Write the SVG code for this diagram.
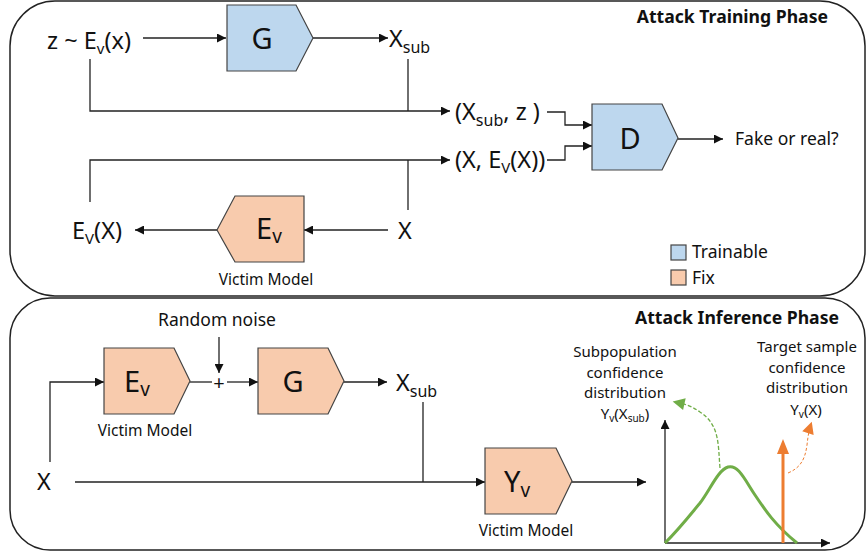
<svg xmlns="http://www.w3.org/2000/svg" width="867" height="552" viewBox="0 0 867 552">
<defs>
<marker id="ah" viewBox="0 0 10 10" refX="10" refY="5" markerWidth="10" markerHeight="9" markerUnits="userSpaceOnUse" orient="auto"><path d="M0,0 L10,5 L0,10 z" fill="#111"/></marker>
<marker id="ahg" viewBox="0 0 10 10" refX="8" refY="5" markerWidth="13" markerHeight="12" markerUnits="userSpaceOnUse" orient="auto"><path d="M0,0 L10,5 L0,10 z" fill="#70AD47"/></marker>
<marker id="aho" viewBox="0 0 10 10" refX="8" refY="5" markerWidth="13" markerHeight="12" markerUnits="userSpaceOnUse" orient="auto"><path d="M0,0 L10,5 L0,10 z" fill="#ED7D31"/></marker>
</defs>
<style>
text{font-family:"Noto Sans","Liberation Sans",sans-serif;fill:#111}
.lbl{font-size:23.5px}
.big{font-size:29px}
.small{font-size:15.5px}
.title{font-size:17.6px;font-weight:bold}
.leg{font-size:17.5px}
.gl{font-size:15px}
.panel{fill:none;stroke:#222;stroke-width:1.5}
.train{fill:#BDD7EE;stroke:#444;stroke-width:1.2}
.fix{fill:#F8CBAD;stroke:#444;stroke-width:1.2}
.ln{fill:none;stroke:#222;stroke-width:1.3}
.ar{fill:none;stroke:#222;stroke-width:1.3;marker-end:url(#ah)}
</style>
<rect class="panel" x="10" y="1" width="855" height="295" rx="45" ry="45"/>
<rect class="panel" x="10" y="298" width="855" height="252" rx="40" ry="40"/>

<g id="connectors">
<path class="ar" d="M143,38 H226"/>
<path class="ar" d="M313,38 H388"/>
<path class="ar" d="M90,59 V111 H450"/>
<path class="ln" d="M408,59 V111"/>
<path class="ar" d="M547,112 H565 V125 H592"/>
<path class="ar" d="M90,202 V160 H450"/>
<path class="ln" d="M408,210 V160"/>
<path class="ar" d="M547,160 H565 V146 H592"/>
<path class="ar" d="M678,139 H723"/>
<path class="ar" d="M217,230 H135"/>
<path class="ar" d="M388,230 H304"/>
<path class="ar" d="M219,337 V373"/>
<path class="ar" d="M50,462 V382 H104"/>
<path class="ln" d="M190,382 H212"/>
<path class="ar" d="M227,382 H258"/>
<path class="ar" d="M344,382 H387"/>
<path class="ln" d="M423,402 V482"/>
<path class="ar" d="M75,482 H485"/>
<path class="ar" d="M572,482 H646"/>
</g>

<g id="z-input"><text class="lbl" x="47" y="49">z ~ E<tspan font-size="15" dy="5">v</tspan><tspan dy="-5">(x)</tspan></text></g>
<g id="G-train"><polygon class="train" points="227,5 296,5 313,38 296,71 227,71"/><text class="big" x="262" y="49" text-anchor="middle">G</text></g>
<g id="xsub-top"><text class="lbl" x="389" y="47">X<tspan font-size="16" dy="6">sub</tspan></text></g>
<g id="pair1"><text class="lbl" x="455" y="120">(X<tspan font-size="16" dy="6">sub</tspan><tspan dy="-6">, z )</tspan></text></g>
<g id="pair2"><text class="lbl" x="455" y="168">(X, E<tspan font-size="15" dy="5">V</tspan><tspan dy="-5">(X))</tspan></text></g>
<g id="D"><polygon class="train" points="592,104 662,104 678,138 662,170 592,170"/><text class="big" x="630" y="149" text-anchor="middle">D</text></g>
<g id="fake"><text class="leg" x="735" y="145">Fake or real?</text></g>
<g id="evx"><text class="lbl" x="72" y="239">E<tspan font-size="15" dy="5">V</tspan><tspan dy="-5">(X)</tspan></text></g>
<g id="Ev-train"><polygon class="fix" points="217,230 235,196 304,196 304,262 235,262"/><text class="big" x="256" y="239">E<tspan font-size="19" dy="4">v</tspan></text><text class="small" x="266" y="285" text-anchor="middle">Victim Model</text></g>
<g id="x-top"><text class="lbl" x="398" y="239">X</text></g>
<text class="title" x="828" y="23" text-anchor="end">Attack Training Phase</text>
<g id="legend">
<rect class="train" x="671" y="245" width="15" height="15"/><text class="leg" x="692" y="258">Trainable</text>
<rect class="fix" x="671" y="270" width="15" height="15"/><text class="leg" x="692" y="284">Fix</text>
</g>

<text class="title" x="839" y="324" text-anchor="end">Attack Inference Phase</text>
<g id="noise"><text class="leg" x="217" y="326" text-anchor="middle">Random noise</text><text x="219" y="390" text-anchor="middle" font-size="20">+</text></g>
<g id="Ev-inf"><polygon class="fix" points="104,348 174,348 190,381 174,414 104,414"/><text class="big" x="124" y="392">E<tspan font-size="19" dy="4">v</tspan></text><text class="small" x="145" y="436" text-anchor="middle">Victim Model</text></g>
<g id="G-inf"><polygon class="fix" points="258,348 328,348 344,381 328,414 258,414"/><text class="big" x="293" y="392" text-anchor="middle">G</text></g>
<g id="xsub-inf"><text class="lbl" x="396" y="391">X<tspan font-size="16" dy="6">sub</tspan></text></g>
<g id="x-inf"><text class="lbl" x="44" y="490" text-anchor="middle">X</text></g>
<g id="Yv"><polygon class="fix" points="485,448 556,448 572,481 556,514 485,514"/><text class="big" x="504" y="492">Y<tspan font-size="19" dy="5">v</tspan></text><text class="small" x="526" y="536" text-anchor="middle">Victim Model</text></g>

<g id="chart">
<path class="ar" d="M665,543 V420"/>
<path class="ar" d="M665,543 H830"/>
<path d="M665,543 C680,528 690,515 700,503 C710,490 718,470 728,467 C738,464 745,480 755,495 C765,510 775,525 797,543" fill="none" stroke="#70AD47" stroke-width="3"/>
<path d="M783,543 V452" fill="none" stroke="#ED7D31" stroke-width="3"/>
<polygon points="777,454 789,454 783,439" fill="#ED7D31"/>
<path d="M720,468 C718,445 720,425 700,412 C690,405 684,404 675,402" fill="none" stroke="#70AD47" stroke-width="1.3" stroke-dasharray="4,2" marker-end="url(#ahg)"/>
<path d="M788,473 C800,468 805,460 807,445 C808,436 809,430 811,424" fill="none" stroke="#ED7D31" stroke-width="1" stroke-dasharray="3,2" marker-end="url(#aho)"/>
</g>
<g id="sub-label">
<text class="gl" x="625" y="357" text-anchor="middle">Subpopulation</text>
<text class="gl" x="625" y="377.5" text-anchor="middle">confidence</text>
<text class="gl" x="625" y="398" text-anchor="middle">distribution</text>
<text class="gl" x="625" y="419" text-anchor="middle">Y<tspan font-size="10" dy="3">v</tspan><tspan dy="-3">(X</tspan><tspan font-size="10" dy="3">sub</tspan><tspan dy="-3">)</tspan></text>
</g>
<g id="target-label">
<text class="gl" x="807" y="352" text-anchor="middle">Target sample</text>
<text class="gl" x="807" y="372.5" text-anchor="middle">confidence</text>
<text class="gl" x="807" y="393" text-anchor="middle">distribution</text>
<text class="gl" x="806" y="415" text-anchor="middle">Y<tspan font-size="10" dy="3">v</tspan><tspan dy="-3">(X)</tspan></text>
</g>
</svg>
